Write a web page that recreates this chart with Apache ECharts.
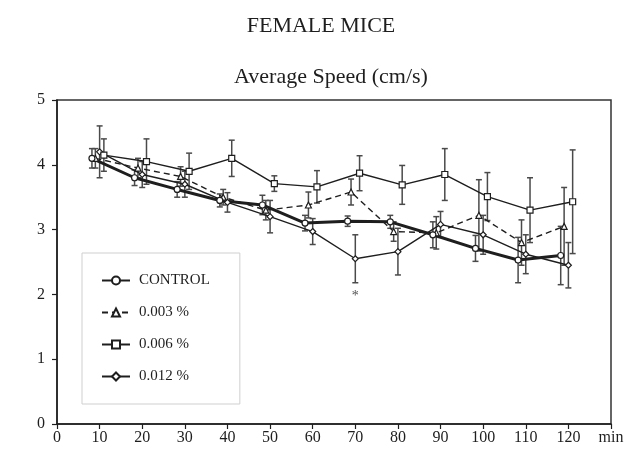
<!DOCTYPE html>
<html>
<head>
<meta charset="utf-8">
<script src="https://cdn.jsdelivr.net/npm/echarts@6/dist/echarts.min.js"></script>
<style>
html,body{margin:0;padding:0;background:#fff;}
#chart{width:633px;height:459px;}
</style>
</head>
<body>
<div id="chart"></div>
<script>
// ---- data ----
const minutes = [10, 20, 30, 40, 50, 60, 70, 80, 90, 100, 110, 120];
const xTicks = [0, 10, 20, 30, 40, 50, 60, 70, 80, 90, 100, 110, 120];
const yTicks = [0, 1, 2, 3, 4, 5];

const control    = [4.10, 3.80, 3.62, 3.45, 3.38, 3.10, 3.13, 3.12, 2.92, 2.71, 2.53, 2.60];
const controlErr = [0.15, 0.12, 0.12, 0.10, 0.15, 0.12, 0.08, 0.10, 0.20, 0.20, 0.35, 0.45];

const p003    = [4.10, 3.95, 3.82, 3.50, 3.30, 3.38, 3.58, 2.97, 2.95, 3.22, 2.80, 3.05];
const p003Err = [0.15, 0.15, 0.15, 0.12, 0.15, 0.20, 0.20, 0.15, 0.25, 0.55, 0.35, 0.60];

const p006    = [4.15, 4.05, 3.90, 4.10, 3.71, 3.66, 3.87, 3.69, 3.85, 3.51, 3.30, 3.43];
const p006Err = [0.25, 0.35, 0.28, 0.28, 0.12, 0.25, 0.27, 0.30, 0.40, 0.37, 0.50, 0.80];

const p012    = [4.20, 3.85, 3.70, 3.42, 3.20, 2.97, 2.55, 2.66, 3.08, 2.92, 2.62, 2.45];
const p012Err = [0.40, 0.20, 0.20, 0.15, 0.25, 0.20, 0.37, 0.36, 0.20, 0.30, 0.30, 0.35];

// small horizontal jitter (minutes) used in the original figure to separate groups
const jitter = { control: -1.8, p003: -1, p006: 1, p012: 0 };

const asterisks = [[70, 1.97]];

const seriesNames = ['CONTROL', '0.003 %', '0.006 %', '0.012 %'];

// ---- build ----
const FONT = "'Liberation Serif', 'DejaVu Serif', serif";
const INK = '#1e1e1e';

function pts(vals, j) { return vals.map((v, i) => [minutes[i] + j, v]); }
function bars(vals, errs, j) { return vals.map((v, i) => [minutes[i] + j, v - errs[i], v + errs[i]]); }

function errSeries(name, data) {
  return {
    type: 'custom',
    name: name + '-err',
    data: data,
    encode: { x: 0, y: [1, 2] },
    z: 2,
    silent: true,
    renderItem: function (params, api) {
      const x = api.value(0);
      const lo = api.coord([x, api.value(1)]);
      const hi = api.coord([x, api.value(2)]);
      const cap = 3;
      const st = { stroke: '#4a4a4a', lineWidth: 1.5 };
      return {
        type: 'group',
        children: [
          { type: 'line', shape: { x1: lo[0], y1: lo[1], x2: hi[0], y2: hi[1] }, style: st },
          { type: 'line', shape: { x1: lo[0] - cap, y1: lo[1], x2: lo[0] + cap, y2: lo[1] }, style: st },
          { type: 'line', shape: { x1: hi[0] - cap, y1: hi[1], x2: hi[0] + cap, y2: hi[1] }, style: st }
        ]
      };
    }
  };
}

function lineSeries(name, data, width, dash, symbol) {
  return {
    type: 'line',
    name: name,
    data: data,
    z: 3,
    symbol: symbol,
    symbolSize: 6,
    showAllSymbol: true,
    lineStyle: { color: INK, width: width, type: dash ? [6, 4] : 'solid' },
    itemStyle: { color: '#fff', borderColor: INK, borderWidth: 1.2 },
    emphasis: { disabled: true }
  };
}

const chart = echarts.init(document.getElementById('chart'), null, { renderer: 'canvas' });

const option = {
  animation: false,
  backgroundColor: '#fff',
  textStyle: { fontFamily: FONT },
  graphic: [
    { type: 'text', x: 321, y: 26, style: { text: 'FEMALE MICE', font: '22px ' + FONT, fill: INK, textAlign: 'center', textVerticalAlign: 'middle' } },
    { type: 'text', x: 331, y: 77, style: { text: 'Average Speed (cm/s)', font: '22px ' + FONT, fill: INK, textAlign: 'center', textVerticalAlign: 'middle' } }
  ],
  grid: {
    left: 57, right: 22, top: 100, bottom: 35,
    show: true, borderColor: '#333', borderWidth: 1.5, backgroundColor: 'transparent'
  },
  legend: {
    orient: 'vertical',
    left: 82, top: 253,
    data: seriesNames,
    itemWidth: 28, itemHeight: 10, itemGap: 17,
    padding: [20, 30, 20, 19],
    borderColor: '#cfcfcf', borderWidth: 1,
    textStyle: { fontFamily: FONT, fontSize: 15, color: INK, padding: [0, 0, 0, 4] },
    selectedMode: false
  },
  xAxis: {
    type: 'value', min: 0, max: 130, interval: 10,
    axisLine: { show: true, lineStyle: { color: INK, width: 1.5 } },
    axisTick: { show: true, inside: false, length: 5, lineStyle: { color: INK, width: 1.2 } },
    axisLabel: {
      margin: 6, fontFamily: FONT, fontSize: 16, color: INK,
      formatter: function (v) { return v === 130 ? 'min' : (xTicks.indexOf(v) >= 0 ? String(v) : ''); }
    },
    splitLine: { show: false }
  },
  yAxis: {
    type: 'value', min: 0, max: 5, interval: 1,
    axisLine: { show: true, lineStyle: { color: INK, width: 1.5 } },
    axisTick: { show: true, inside: false, length: 5, lineStyle: { color: INK, width: 1.2 } },
    axisLabel: {
      margin: 12, fontFamily: FONT, fontSize: 16, color: INK,
      formatter: function (v) { return yTicks.indexOf(v) >= 0 ? String(v) : ''; }
    },
    splitLine: { show: false }
  },
  series: [
    errSeries('CONTROL', bars(control, controlErr, jitter.control)),
    errSeries('0.003 %', bars(p003, p003Err, jitter.p003)),
    errSeries('0.006 %', bars(p006, p006Err, jitter.p006)),
    errSeries('0.012 %', bars(p012, p012Err, jitter.p012)),
    lineSeries('0.012 %', pts(p012, jitter.p012), 1.4, false, 'diamond'),
    lineSeries('0.006 %', pts(p006, jitter.p006), 1.4, false, 'rect'),
    lineSeries('0.003 %', pts(p003, jitter.p003), 1.4, true, 'triangle'),
    lineSeries('CONTROL', pts(control, jitter.control), 3, false, 'circle'),
    {
      type: 'scatter', name: 'sig', data: asterisks, symbolSize: 0, silent: true,
      label: { show: true, formatter: '*', fontFamily: FONT, fontSize: 14, color: INK, position: 'inside' }
    }
  ]
};
chart.setOption(option);
</script>
</body>
</html>
